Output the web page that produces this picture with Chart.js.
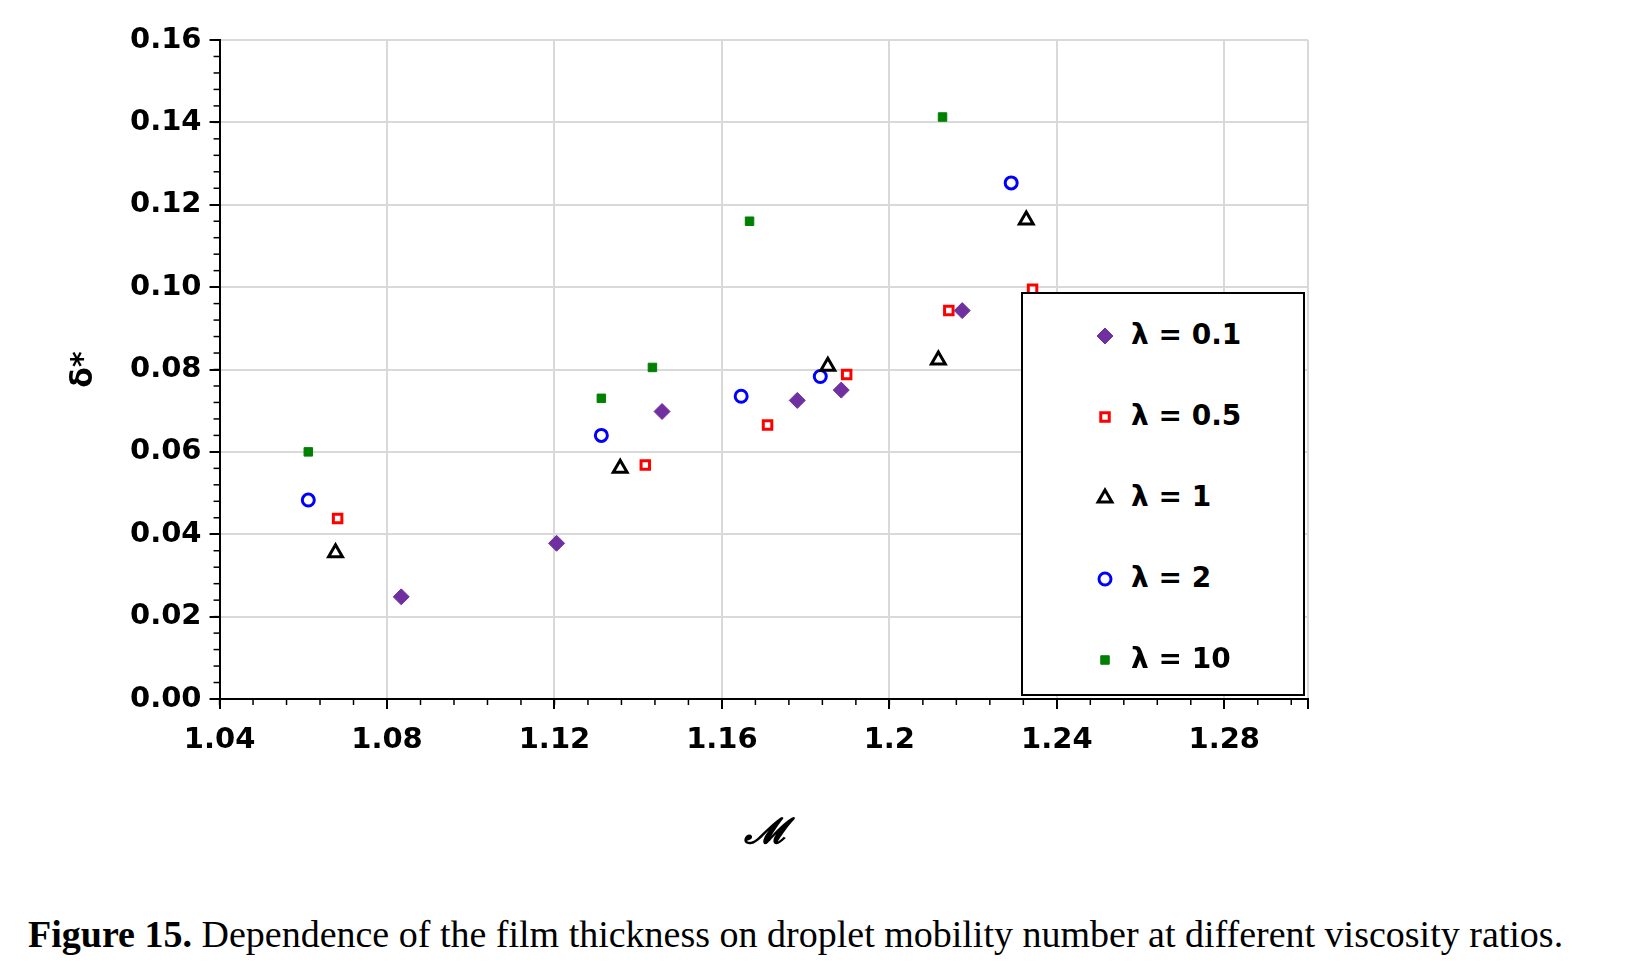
<!DOCTYPE html>
<html>
<head>
<meta charset="utf-8">
<script src="https://cdn.jsdelivr.net/npm/chart.js@4.4.1/dist/chart.umd.min.js"></script>
<style>
  body { margin: 0; background: #fff; width: 1629px; height: 971px; position: relative; overflow: hidden; }
  #wrap { position: absolute; left: 0; top: 0; width: 1358px; height: 859px; }
  #legend { position: absolute; left: 1021px; top: 292px; width: 284px; height: 404px; border: 2px solid #000;
            background: #fff; font: bold 28px "DejaVu Sans", sans-serif; box-sizing: border-box; padding-top: 24px; }
  #legend div { height: 81px; padding-left: 108px; position: relative; }
  #legend canvas { position: absolute; left: 70px; top: 6px; }
  #caption { position: absolute; left: 28px; top: 912px; font: 38px "Liberation Serif", serif; white-space: nowrap; }
</style>
</head>
<body>
<div id="wrap"><canvas id="c"></canvas></div>
<div id="legend"></div>
<div id="caption"><b>Figure 15.</b> Dependence of the film thickness on droplet mobility number at different viscosity ratios.</div>
<script>
// Verileri
const lambdas = ['λ = 0.1', 'λ = 0.5', 'λ = 1', 'λ = 2', 'λ = 10'];
const mL01 = [1.0834, 1.1205, 1.1457, 1.178, 1.1885, 1.2174];
const dL01 = [0.0248, 0.0378, 0.0698, 0.0725, 0.075, 0.0943];
const mL05 = [1.0682, 1.1417, 1.1709, 1.1898, 1.2142, 1.2342];
const dL05 = [0.0438, 0.0568, 0.0665, 0.0788, 0.0943, 0.0995];
const mL1 = [1.0677, 1.1357, 1.1853, 1.2117, 1.2327];
const dL1 = [0.0355, 0.056, 0.0808, 0.0823, 0.1163];
const mL2 = [1.0612, 1.1312, 1.1646, 1.1835, 1.2291];
const dL2 = [0.0483, 0.064, 0.0735, 0.0783, 0.1253];
const mL10 = [1.0612, 1.1312, 1.1434, 1.1666, 1.2127];
const dL10 = [0.060, 0.073, 0.0805, 0.116, 0.1413];

const pts = (xs, ys) => xs.map((x, i) => ({ x: x, y: ys[i] }));
const styles = [
  { pointStyle: 'rectRot', pointRadius: 8, backgroundColor: '#7030A0', borderColor: '#7030A0', borderWidth: 1 },
  { pointStyle: 'rect', pointRadius: 6, backgroundColor: '#fff', borderColor: '#FF0000', borderWidth: 3 },
  { pointStyle: 'triangle', pointRadius: 8, backgroundColor: '#fff', borderColor: '#000', borderWidth: 3 },
  { pointStyle: 'circle', pointRadius: 6, backgroundColor: '#fff', borderColor: '#0000FF', borderWidth: 3 },
  { pointStyle: 'rect', pointRadius: 6, backgroundColor: '#008000', borderColor: '#008000', borderWidth: 1 }
];
const series = [[mL01, dL01], [mL05, dL05], [mL1, dL1], [mL2, dL2], [mL10, dL10]];

// kucuk tik cizgileri
const minorTicks = {
  id: 'minorTicks',
  afterDraw(chart) {
    const c = chart.ctx, x = chart.scales.x, y = chart.scales.y;
    c.save(); c.strokeStyle = '#000'; c.lineWidth = 1.5;
    for (let v = 1.04; v <= 1.3001; v += 0.008) {
      const px = x.getPixelForValue(v);
      c.beginPath(); c.moveTo(px, y.bottom); c.lineTo(px, y.bottom + 6); c.stroke();
    }
    for (let v = 0; v <= 0.1601; v += 0.004) {
      const py = y.getPixelForValue(v);
      c.beginPath(); c.moveTo(x.left - 6, py); c.lineTo(x.left, py); c.stroke();
    }
    c.restore();
  }
};

const font = { family: 'DejaVu Sans', weight: 'bold', size: 29 };
new Chart(document.getElementById('c'), {
  type: 'scatter',
  data: {
    datasets: series.map((s, i) => Object.assign({ label: lambdas[i], data: pts(s[0], s[1]) }, styles[i]))
  },
  plugins: [minorTicks],
  options: {
    responsive: true, maintainAspectRatio: false, animation: false,
    layout: { padding: { top: 40, right: 50, left: 62 } },
    plugins: { legend: { display: false }, tooltip: { enabled: false } },
    scales: {
      x: {
        type: 'linear', min: 1.04, max: 1.30,
        ticks: { stepSize: 0.04, color: '#000', font: font, padding: 14,
                 callback: v => v > 1.29 ? '' : String(parseFloat(v.toFixed(2))) },
        grid: { color: '#d9d9d9', lineWidth: 2, tickLength: 10, tickColor: '#000' },
        border: { color: '#000', width: 2 },
        title: { display: true, text: '𝓜', color: '#000', padding: { top: 40 },
                 font: { family: 'DejaVu Serif', style: 'italic', weight: 'bold', size: 36 } }
      },
      y: {
        min: 0, max: 0.16,
        ticks: { stepSize: 0.02, color: '#000', font: font, padding: 8, callback: v => v.toFixed(2) },
        grid: { color: '#d9d9d9', lineWidth: 2, tickLength: 10, tickColor: '#000' },
        border: { color: '#000', width: 2 },
        title: { display: true, text: 'δ*', color: '#000', padding: { bottom: 20 },
                 font: { family: 'DejaVu Sans', weight: 'bold', size: 30 } }
      }
    }
  }
});

// HTML legend
const leg = document.getElementById('legend');
lambdas.forEach((l, i) => {
  const row = document.createElement('div');
  const cv = document.createElement('canvas');
  cv.width = 24; cv.height = 24;
  const g = cv.getContext('2d'), st = styles[i];
  g.fillStyle = st.backgroundColor; g.strokeStyle = st.borderColor; g.lineWidth = st.borderWidth;
  Chart.helpers.drawPoint(g, { pointStyle: st.pointStyle, radius: st.pointRadius, borderWidth: st.borderWidth, rotation: 0 }, 12, 12);
  row.appendChild(cv);
  row.appendChild(document.createTextNode(l));
  leg.appendChild(row);
});
</script>
</body>
</html>
